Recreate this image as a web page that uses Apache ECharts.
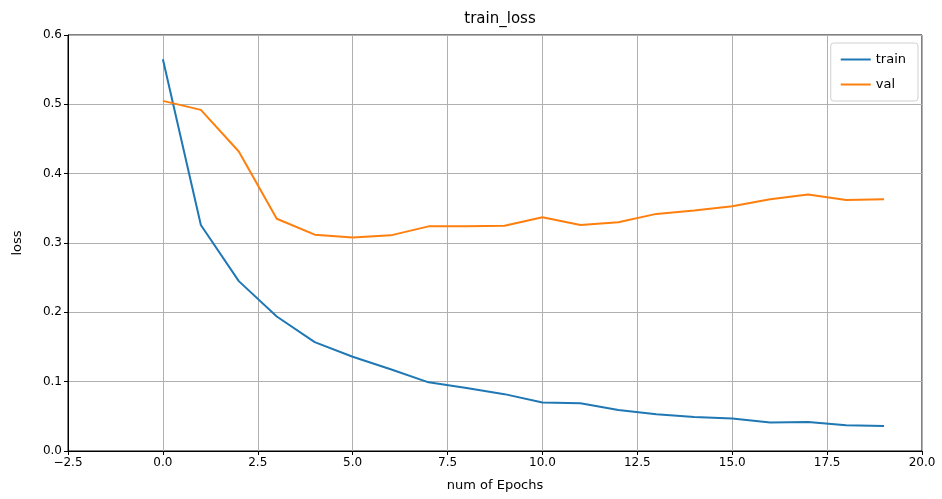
<!DOCTYPE html>
<html>
<head>
<meta charset="utf-8">
<script src="https://cdn.jsdelivr.net/npm/echarts@6/dist/echarts.min.js"></script>
<style>
  html, body { margin: 0; padding: 0; background: #fff; }
  #chart { width: 942px; height: 499px; }
</style>
</head>
<body>
<div id="chart"></div>
<script>
const epochs = [0, 1, 2, 3, 4, 5, 6, 7, 8, 9, 10, 11, 12, 13, 14, 15, 16, 17, 18, 19]
const trainLoss = [0.565, 0.326, 0.245, 0.194, 0.157, 0.136, 0.118, 0.099, 0.091, 0.082, 0.070, 0.069, 0.059, 0.053, 0.049, 0.047, 0.041, 0.042, 0.037, 0.036]
const valLoss = [0.505, 0.492, 0.432, 0.335, 0.312, 0.308, 0.311, 0.324, 0.324, 0.325, 0.337, 0.326, 0.330, 0.342, 0.347, 0.353, 0.363, 0.370, 0.362, 0.363]

const font = 'DejaVu Sans'
const chart = echarts.init(document.getElementById('chart'))

const opt = {
  animation: false,
  textStyle: { fontFamily: font },
  title: {
    text: 'train_loss',
    left: 495,
    textAlign: 'center',
    top: 7,
    textStyle: { fontFamily: font, fontSize: 15, fontWeight: 'normal', color: '#000' }
  },
  legend: {
    right: 24,
    top: 43,
    orient: 'vertical',
    itemWidth: 30,
    itemHeight: 2,
    itemGap: 12,
    padding: [10, 12, 10, 10],
    borderColor: '#d0d0d0',
    borderWidth: 1,
    borderRadius: 3,
    icon: 'rect',
    textStyle: { fontFamily: font, fontSize: 13, color: '#000' },
    data: ['train', 'val']
  },
  grid: {
    left: 68,
    right: 20,
    top: 35,
    bottom: 48,
    show: true,
    borderColor: '#000',
    borderWidth: 1
  },
  xAxis: {
    type: 'value',
    min: -2.5,
    max: 20,
    interval: 2.5,
    name: 'num of Epochs',
    nameLocation: 'middle',
    nameGap: 28,
    nameTextStyle: { fontFamily: font, fontSize: 13, color: '#000' },
    axisLine: { onZero: false, lineStyle: { color: '#000' } },
    axisTick: { length: 4, lineStyle: { color: '#000' } },
    axisLabel: { color: '#000', fontSize: 12, margin: 6, formatter: v => v.toFixed(1).replace('-', '\u2212') },
    splitLine: { show: true, lineStyle: { color: '#b0b0b0', width: 1 } }
  },
  yAxis: {
    type: 'value',
    min: 0,
    max: 0.6,
    interval: 0.1,
    name: 'loss',
    nameLocation: 'middle',
    nameGap: 44,
    nameTextStyle: { fontFamily: font, fontSize: 13, color: '#000' },
    axisLine: { show: true, onZero: false, lineStyle: { color: '#000' } },
    axisTick: { show: true, length: 4, lineStyle: { color: '#000' } },
    axisLabel: { color: '#000', fontSize: 12, margin: 6, formatter: v => v.toFixed(1) },
    splitLine: { show: true, lineStyle: { color: '#b0b0b0', width: 1 } }
  },
  series: [{
    name: 'train',
    type: 'line',
    showSymbol: false,
    color: '#1f77b4',
    lineStyle: { width: 2 },
    data: epochs.map((e, i) => [e, trainLoss[i]])
  }, {
    name: 'val',
    type: 'line',
    showSymbol: false,
    color: '#ff7f0e',
    lineStyle: { width: 2 },
    data: epochs.map((e, i) => [e, valLoss[i]])
  }]
}
chart.setOption(opt)
</script>
</body>
</html>
